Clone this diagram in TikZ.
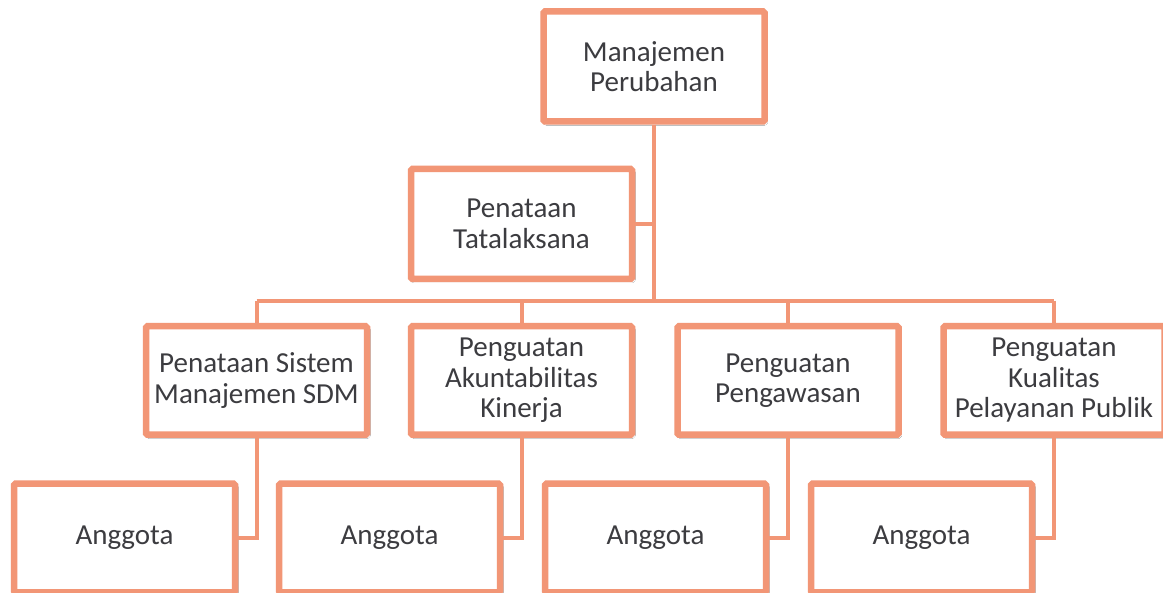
\documentclass[tikz,border=0pt]{standalone}
\usepackage{fontspec}
\setmainfont{Carlito}
\usetikzlibrary{shadows.blur}
\definecolor{boxline}{RGB}{242,150,118}
\definecolor{txt}{RGB}{60,60,64}
\tikzset{
  orgbox/.style={draw=boxline, line width=6.5pt, fill=white, rounded corners=1.5pt,
    minimum width=221pt, minimum height=110pt, inner sep=0pt, align=center,
    text=txt, font=\fontsize{29}{30.5}\selectfont,
    blur shadow={shadow xshift=1.5pt, shadow yshift=-2pt, shadow blur steps=6, shadow opacity=25}},
  link/.style={draw=boxline, line width=4pt}
}
\begin{document}
\begin{tikzpicture}[x=1pt, y=-1pt]
\useasboundingbox (0,0) rectangle (1163,593);
\clip (0,0) rectangle (1163,593);
\fill[white] (0,0) rectangle (1163,593);
\coordinate (busy) at (0,301);
\node[orgbox] (top) at (654,66.5) {Manajemen\\Perubahan};
\node[orgbox] (tata) at (521.5,224) {Penataan\\Tatalaksana};
\node[orgbox, minimum height=108.5pt] (b1) at (256.5,380.5) {Penataan Sistem\\Manajemen SDM};
\node[orgbox, minimum height=108.5pt] (b2) at (521.5,380.5) {Penguatan\\Akuntabilitas\\Kinerja};
\node[orgbox, minimum height=108.5pt] (b3) at (788,380.5) {Penguatan\\Pengawasan};
\node[orgbox, minimum height=108.5pt] (b4) at (1054,380.5) {Penguatan\\Kualitas\\Pelayanan Publik};
\node[orgbox, minimum height=108.5pt] (a1) at (124.5,538) {Anggota};
\node[orgbox, minimum height=108.5pt] (a2) at (389.5,538) {Anggota};
\node[orgbox, minimum height=108.5pt] (a3) at (655.5,538) {Anggota};
\node[orgbox, minimum height=108.5pt] (a4) at (921.5,538) {Anggota};
\draw[link] (top.south) -- (top.south |- busy);
\draw[link] (tata.east) -- (tata.east -| top.south);
\draw[link] (b1.north |- busy) -- (b4.north |- busy);
\foreach \b in {b1,b2,b3,b4}{\draw[link] (\b.north |- busy) -- (\b.north);}
\draw[link] (b1.south) |- (a1.east);
\draw[link] (b2.south) |- (a2.east);
\draw[link] (b3.south) |- (a3.east);
\draw[link] (b4.south) |- (a4.east);
\end{tikzpicture}
\end{document}
